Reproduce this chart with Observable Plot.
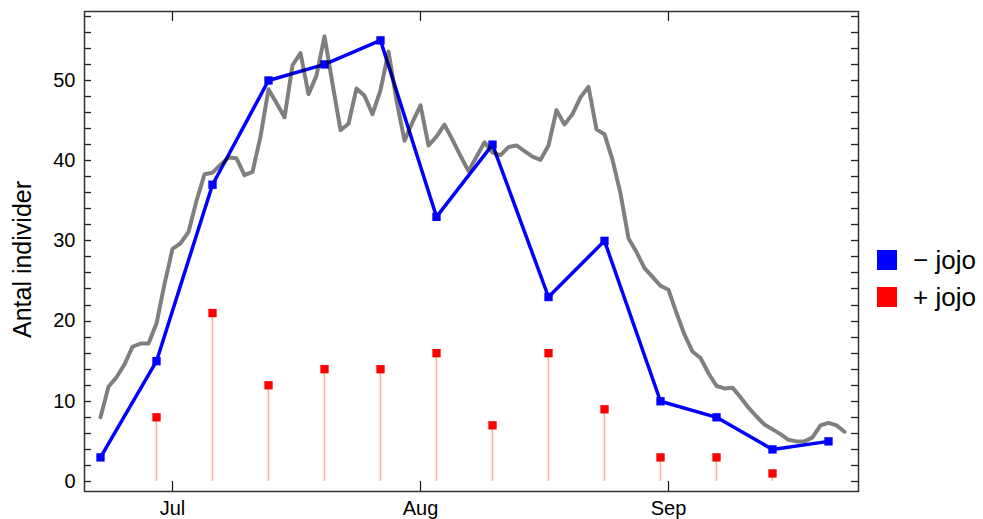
<!DOCTYPE html>
<html>
<head>
<meta charset="utf-8">
<script src="https://cdn.jsdelivr.net/npm/d3@7"></script>
<script src="https://cdn.jsdelivr.net/npm/@observablehq/plot@0.6"></script>
<style>
  body { margin: 0; background: #fff; }
  #wrap { position: relative; width: 983px; height: 519px; font-family: "Liberation Sans", Arial, sans-serif; }
  #legend { position: absolute; left: 877px; top: 250px; }
  .row { display: flex; align-items: center; height: 20px; margin-bottom: 17px; font-size: 26px; color: #000; }
  .sw { width: 20px; height: 20px; margin-right: 16px; }
</style>
</head>
<body>
<div id="wrap"></div>
<script>
const YEAR = 2021;

// Weekly samples
const minusDates = ["06-22","06-29","07-06","07-13","07-20","07-27","08-03","08-10","08-17","08-24","08-31","09-07","09-14","09-21"];
const minusValues = [3, 15, 37, 50, 52, 55, 33, 42, 23, 30, 10, 8, 4, 5];

const plusDates = ["06-29","07-06","07-13","07-20","07-27","08-03","08-10","08-17","08-24","08-31","09-07","09-14"];
const plusValues = [8, 21, 12, 14, 14, 16, 7, 16, 9, 3, 3, 1];

// Daily gray series starting 22 June
const dailyStart = "06-22";
const dailyValues = [
  8.0, 11.8, 13.0, 14.6, 16.8, 17.2, 17.2, 19.7, 24.6, 29.0,
  29.7, 31.1, 35.0, 38.3, 38.5, 39.5, 40.4, 40.3, 38.2, 38.6,
  43.0, 48.9, 47.2, 45.4, 51.9, 53.4, 48.3, 50.6, 55.5, 49.6,
  43.8, 44.6, 49.0, 48.1, 45.8, 48.8, 53.6, 47.5, 42.5, 44.8,
  46.9, 41.9, 43.0, 44.5, 42.6, 40.6, 38.7, 40.5, 42.3, 41.0,
  40.7, 41.7, 41.9, 41.2, 40.5, 40.1, 41.9, 46.3, 44.5, 45.8,
  47.9, 49.2, 43.9, 43.3, 40.1, 35.9, 30.3, 28.6, 26.6, 25.5,
  24.4, 23.9, 21.0, 18.3, 16.2, 15.4, 13.5, 11.9, 11.6, 11.7,
  10.5, 9.2, 8.1, 7.1, 6.5, 5.9, 5.2, 5.0, 5.0, 5.5,
  7.0, 7.3, 7.0, 6.2
];

const monthTicks = ["07-01","08-01","09-01"];
const yTickLabels = [0, 10, 20, 30, 40, 50];
const yMinorTicks = [0,2,4,6,8,10,12,14,16,18,20,22,24,26,28,30,32,34,36,38,40,42,44,46,48,50,52,54,56,58];
const xDomain = ["06-20T00:00","09-24T18:00"];
const yDomain = [-1.25, 58.6];

const yLabel = "Antal individer";
const legendLabels = ["\u2212 jojo", "+ jojo"];
const legendColors = ["#0000ff", "#ff0000"];

const toDate = s => new Date(`${YEAR}-${s}${s.includes("T") ? ":00Z" : "T00:00:00Z"}`);

const minus = minusDates.map((d, i) => ({date: toDate(d), value: minusValues[i]}));
const plus = plusDates.map((d, i) => ({date: toDate(d), value: plusValues[i]}));
const startDate = toDate(dailyStart);
const daily = dailyValues.map((v, i) => ({date: d3.utcDay.offset(startDate, i), value: v}));

function innerTicks(index, scales, values, dims) {
  const g = d3.create("svg:g").attr("stroke", "#222").attr("stroke-width", 1.3).attr("fill", "none");
  const x0 = dims.marginLeft, x1 = dims.width - dims.marginRight;
  const y0 = dims.marginTop, y1 = dims.height - dims.marginBottom;
  for (const v of yMinorTicks) {
    const y = Math.round(scales.y(v)) + 0.5;
    g.append("line").attr("x1", x0).attr("x2", x0 + 7).attr("y1", y).attr("y2", y);
    g.append("line").attr("x1", x1).attr("x2", x1 - 7).attr("y1", y).attr("y2", y);
  }
  for (const m of monthTicks) {
    const x = Math.round(scales.x(toDate(m))) + 0.5;
    g.append("line").attr("x1", x).attr("x2", x).attr("y1", y0).attr("y2", y0 + 10);
    g.append("line").attr("x1", x).attr("x2", x).attr("y1", y1).attr("y2", y1 - 10);
  }
  return g.node();
}

const chart = Plot.plot({
  width: 983,
  height: 519,
  marginLeft: 84,
  marginRight: 125,
  marginTop: 11,
  marginBottom: 28,
  style: {fontFamily: "'Liberation Sans', Arial, sans-serif", fontSize: "20px", background: "#fff", color: "#000"},
  x: {type: "utc", domain: xDomain.map(toDate)},
  y: {domain: yDomain},
  marks: [
    Plot.axisY({ticks: yTickLabels, tickSize: 0, tickPadding: 9, label: null, fontSize: 20}),
    Plot.axisX({ticks: monthTicks.map(toDate), tickFormat: d3.utcFormat("%b"), tickSize: 0, tickPadding: 9, label: null, fontSize: 20}),
    Plot.ruleX(plus, {x: "date", y1: 0, y2: "value", stroke: "#ffadad", strokeWidth: 1.6}),
    Plot.line(minus, {x: "date", y: "value", stroke: "#0000ff", strokeWidth: 3.5}),
    Plot.dot(minus, {x: "date", y: "value", symbol: "square", r: 4.7, fill: "#0000ff", stroke: null}),
    Plot.dot(plus, {x: "date", y: "value", symbol: "square", r: 4.7, fill: "#ff0000", stroke: null}),
    Plot.line(daily, {x: "date", y: "value", stroke: "#000", strokeOpacity: 0.5, strokeWidth: 4}),
    Plot.frame({stroke: "#333", strokeWidth: 1.5}),
    innerTicks,
    Plot.text([yLabel], {text: d => d, frameAnchor: "left", textAnchor: "middle", lineAnchor: "middle", dx: -62, dy: 8, rotate: -90, fontSize: "25px", fill: "#000"})
  ]
});

const wrap = document.getElementById("wrap");
wrap.appendChild(chart);

const legend = document.createElement("div");
legend.id = "legend";
legendLabels.forEach((lab, i) => {
  const row = document.createElement("div");
  row.className = "row";
  const sw = document.createElement("div");
  sw.className = "sw";
  sw.style.background = legendColors[i];
  const t = document.createElement("span");
  t.textContent = lab;
  row.appendChild(sw);
  row.appendChild(t);
  legend.appendChild(row);
});
wrap.appendChild(legend);
</script>
</body>
</html>
